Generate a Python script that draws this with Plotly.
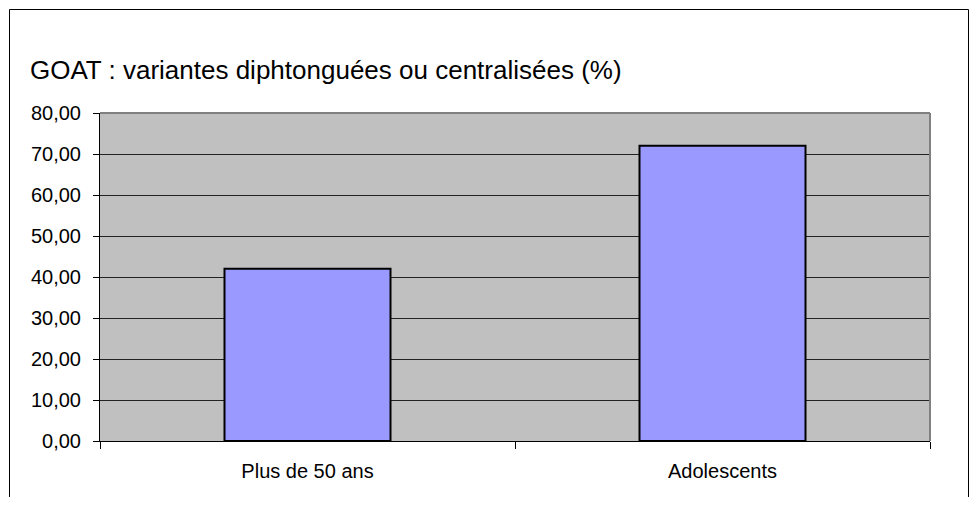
import plotly.graph_objects as go

# data
categories = ["Plus de 50 ans", "Adolescents"]
values = [42.0, 72.0]
title_text = "GOAT : variantes diphtonguées ou centralisées (%)"

# page body has an 8px margin, so the figure sits at (8, 8) on screen
OFF = 8
W, H = 961, 489
L, R, T, B = 100 - OFF, 39, 113 - OFF, 56
pw, ph = W - L - R, H - T - B


def px_x(x):
    # screen pixel -> paper x
    return (x - OFF - L) / pw


def px_y(y):
    # screen pixel -> paper y
    return (H - B - (y - OFF)) / ph


fig = go.Figure(
    go.Bar(
        x=categories,
        y=values,
        width=0.4,
        marker=dict(color="#9999FF", line=dict(color="black", width=2)),
    )
)

fig.update_layout(
    width=W,
    height=H,
    margin=dict(l=L, r=R, t=T, b=B),
    paper_bgcolor="white",
    plot_bgcolor="#C0C0C0",
    separators=", ",
    showlegend=False,
    font=dict(family="Liberation Sans, Arial", color="black"),
    title=dict(
        text=title_text,
        x=(30 - OFF) / W,
        xanchor="left",
        xref="container",
        y=1 - (70 - OFF) / H,
        yanchor="middle",
        yref="container",
        font=dict(size=26),
    ),
)

fig.update_xaxes(
    type="category",
    range=[-0.5, 1.5],
    tickson="boundaries",
    ticks="outside",
    ticklen=7,
    tickcolor="black",
    showline=True,
    linecolor="black",
    linewidth=1,
    showgrid=False,
    ticklabelstandoff=12,
    tickfont=dict(size=20),
)

fig.update_yaxes(
    range=[0, 80],
    dtick=10,
    tickformat=".2f",
    ticks="outside",
    ticklen=6,
    tickcolor="black",
    showline=True,
    linecolor="black",
    linewidth=1,
    showgrid=True,
    gridcolor="#222222",
    gridwidth=1,
    zeroline=False,
    ticklabelstandoff=8,
    tickfont=dict(size=20),
)

# gray frame top/right of plot area
fig.add_shape(type="line", xref="paper", yref="paper", x0=0, x1=1, y0=1, y1=1,
              line=dict(color="#808080", width=2))
fig.add_shape(type="line", xref="paper", yref="paper", x0=1, x1=1, y0=0, y1=1,
              line=dict(color="#808080", width=2))

# outer chart border
fig.add_shape(type="rect", xref="paper", yref="paper",
              x0=px_x(9.5), x1=px_x(968.5), y0=px_y(9.5), y1=px_y(530),
              line=dict(color="black", width=1), layer="below")

fig.write_html("out.html")
